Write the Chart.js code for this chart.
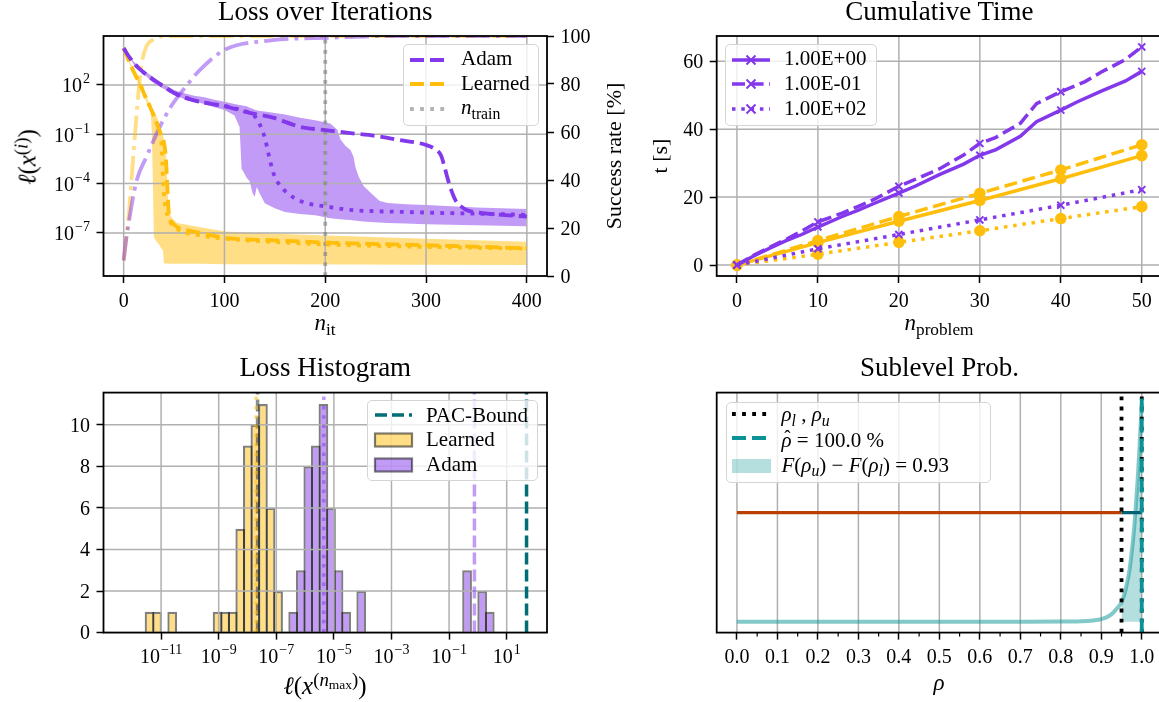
<!DOCTYPE html>
<html><head><meta charset="utf-8">
<script src="https://cdn.jsdelivr.net/npm/chart.js"></script>
<style>
html,body{margin:0;padding:0;background:#fff;width:1159px;height:702px;overflow:hidden;}
#wrap{position:relative;width:1159px;height:702px;overflow:hidden;font-family:'Liberation Serif','DejaVu Serif',serif;color:#000;background:#fff;}
canvas{position:absolute;left:0;top:0;}
.t{position:absolute;white-space:nowrap;line-height:1;}
.sup{font-size:75%;position:relative;top:-0.45em;}
.sub{font-size:75%;position:relative;top:0.3em;}
.sub2{font-size:72%;position:relative;top:0.25em;}
.hat{position:relative;display:inline-block;}
.hat::after{content:'\02C6';position:absolute;left:0.14em;top:-0.12em;font-style:normal;font-size:0.9em;}
.lg{position:absolute;border:1.6px solid #d4d4d4;border-radius:5px;background:rgba(255,255,255,0.8);box-sizing:border-box;}
</style></head><body><div id="wrap">
<canvas id="c1" width="1200" height="702"></canvas>
<canvas id="c2" width="1200" height="702"></canvas>
<canvas id="c3" width="1200" height="702"></canvas>
<canvas id="c4" width="1200" height="702"></canvas>
</div>
<script>
// ================= DATA =================
// --- Loss over Iterations (x: iteration, values: log10 of loss) ---
const adamMedX   = [0,5,10,20,30,40,50,60,76,100,125,149,175,200,225,250,274,300,310,315,318,321,325,330,335,340,356,375,400];
const adamMedLog = [4.23,3.75,3.34,2.75,2.3,1.9,1.51,1.25,0.97,0.72,0.30,0.0,-0.55,-0.74,-0.93,-1.1,-1.35,-1.65,-1.95,-2.3,-2.9,-3.6,-4.4,-5.1,-5.4,-5.6,-5.8,-5.9,-6.0];
const adamDotX   = [0,5,10,20,30,40,50,60,76,100,120,125,130,135,140,143,146,150,155,162,170,182,200,225,250,275,300,325,350,375,400];
const adamDotLog = [4.23,3.75,3.34,2.75,2.3,1.9,1.51,1.25,0.97,0.72,0.42,0.3,0.1,-0.4,-1.2,-2.0,-2.8,-3.6,-4.1,-4.55,-4.9,-5.2,-5.38,-5.6,-5.68,-5.72,-5.76,-5.8,-5.83,-5.86,-5.9];
const adamBandX     = [0,10,20,30,40,50,60,70,80,90,100,110,115,117,119,122,125,128,130,132,135,140,150,160,175,190,205,212,215,220,225,228,230,233,238,245,254,262,280,300,325,350,375,400];
const adamBandHiLog = [4.23,3.42,2.9,2.45,2.05,1.7,1.5,1.35,1.25,1.1,0.98,0.85,0.78,0.76,0.74,0.7,0.62,0.55,0.5,0.46,0.42,0.38,0.3,0.2,0.0,-0.15,-0.35,-0.72,-1.3,-1.7,-1.95,-2.35,-3.0,-3.55,-4.15,-4.55,-5.05,-5.18,-5.25,-5.3,-5.38,-5.45,-5.5,-5.55];
const adamBandLoLog = [4.23,3.25,2.65,2.1,1.75,1.4,1.15,1.0,0.85,0.65,0.48,0.15,-0.55,-3.1,-3.3,-3.65,-3.85,-4.6,-4.8,-4.2,-4.6,-5.2,-5.5,-5.72,-5.85,-5.92,-6.1,-6.15,-6.17,-6.2,-6.22,-6.24,-6.25,-6.27,-6.3,-6.33,-6.37,-6.4,-6.43,-6.47,-6.5,-6.53,-6.57,-6.6];
const lrnMedX   = [0,5,10,16.7,20,27,33,37,40,42,43,44,45,48,53,60,76,101,150,208,300,400];
const lrnMedLog = [4.23,3.5,2.8,2.0,1.5,0.55,-0.35,-1.0,-1.5,-2.5,-3.8,-5.0,-5.9,-6.35,-6.64,-6.8,-7.0,-7.3,-7.45,-7.6,-7.75,-7.93];
const lrnDotX   = [0,5,10,16.7,20,27,33,36,37.5,38.5,39.3,40.5,42,45,53,76,100,150,200,300,400];
const lrnDotLog = [4.23,3.5,2.8,2.0,1.5,0.55,-0.35,-0.9,-1.6,-2.8,-4.0,-5.0,-5.6,-6.2,-6.75,-7.15,-7.35,-7.55,-7.7,-7.85,-7.95];
const lrnBandX     = [0,5,10,16.7,20,25,27,28,29,30,31,33,35,37,38,39,40,41,42,43,44,45,48,53,76,101,150,225,300,400];
const lrnBandHiLog = [4.23,3.6,2.9,2.1,1.65,0.95,0.7,0.6,0.5,0.4,0.3,0.05,-0.25,-0.7,-0.9,-1.1,-1.3,-1.6,-2.1,-3.5,-4.8,-5.7,-6.1,-6.4,-6.65,-6.92,-7.05,-7.2,-7.35,-7.53];
const lrnBandLoLog = [4.23,3.4,2.7,1.9,1.35,0.6,0.3,-1.0,-4.0,-7.2,-7.4,-7.55,-7.7,-7.9,-8.0,-8.05,-8.85,-8.86,-8.86,-8.86,-8.86,-8.87,-8.87,-8.87,-8.88,-8.9,-8.9,-8.92,-8.94,-8.95];
const adamSucX = [0,3,5,8.3,13,23,34.6,46,59,76,101,142,208,260,400];
const adamSuc  = [6.5,17,22,30.4,40,50,61,70,77.5,86,94.4,98,99.3,100,100];
const lrnSucX  = [0,3,5,8.3,11.6,15,18,23,30,36,50,400];
const lrnSuc   = [6.5,17,25,43,61,78,89,96,98.6,99.7,100,100];
const nTrain = 200;
const iterTicks = [0,100,200,300,400];
const lossTickExps = [2,-1,-4,-7];
const succTicks = [0,20,40,60,80,100];

// --- Cumulative Time ---
const adamT0X = [0,2,4,6,8,10,13,15,17,20,22,25,28,30,32,35,37,40,42,45,48,50];      // 1.00E+00
const adamT0  = [0,2.6,4.9,7.1,9.0,11.2,14.3,16.2,18.2,21.2,23.2,26.6,29.7,32.3,34.0,37.9,42.2,45.6,48.0,51.2,54.2,57.0];
const adamT1X = [0,2,4,6,8,10,13,15,17,20,22,25,28,30,32,35,37,40,43,45,48,50];      // 1.00E-01
const adamT1  = [0,2.8,5.2,7.5,10,12.7,15.3,17.3,19.4,23.2,25.2,28.3,32.4,35.8,37.6,41.7,47.5,51.0,54.0,56.8,60.5,64.2];
const problemX = [0,10,20,30,40,50];
const adamT2  = [0,4.8,9.0,13.3,17.6,22.2];                                         // 1.00E+02
const lrnT0   = [0,6.6,12.9,19.0,25.4,32.2];
const lrnT1   = [0,7.2,14.3,21.1,28.0,35.4];
const lrnT2   = [0,3.2,6.7,10.1,13.7,17.2];
const timeTicks = [0,20,40,60];
const legendTime = ['1.00E+00','1.00E-01','1.00E+02'];

// --- Loss Histogram (log10 bins) ---
const binWidthLog = 0.2625;
const lrnBinLeft  = [-11.532,-11.270,-10.745,-9.170,-8.907,-8.645,-8.382,-8.120,-7.857,-7.595,-7.332,-7.070];
const lrnCounts   = [1,1,1,1,1,1,5,9,10,11,6,2];
const adamBinLeft = [-6.545,-6.282,-6.020,-5.757,-5.495,-5.232,-4.970,-4.707,-4.182,-0.507,0.018,0.281];
const adamCounts  = [1,3,8,9,11,6,3,1,2,3,2,1];
const lrnMedianLog = -7.70, lrnMeanLog = -7.65, adamMedianLog = -5.35, adamMeanLog = -0.12, pacBoundLog = 1.69;
const histXTicks = [-11,-9,-7,-5,-3,-1,1];
const histYTicks = [0,2,4,6,8,10];

// --- Sublevel Prob. ---
const rhoX       = [0,0.5,0.8,0.85,0.88,0.9,0.92,0.93,0.94,0.95,0.96,0.97,0.975,0.98,0.985,0.99,0.995,1.0];
const rhoDensity = [0,0,0.02,0.1,0.3,0.6,1.4,2.2,3.3,4.6,7.6,12.5,16.5,21,27,34,42.5,52];
const rhoL = 0.95, rhoU = 1.0, rhoHat = 1.0, levelY = 26;
const rhoTicks = [0,0.1,0.2,0.3,0.4,0.5,0.6,0.7,0.8,0.9,1.0];
const rhoMinor = [0.05,0.15,0.25,0.35,0.45,0.55,0.65,0.75,0.85,0.95];

// ================= STYLE / HELPERS =================
const FF = "'Liberation Serif','DejaVu Serif',serif";
const TF = 20, EF = 14;
const PUR = '#8338ec', GLD = '#ffbe0b';
const PURA = 'rgba(131,56,236,0.5)', GLDA = 'rgba(255,190,11,0.5)';
const GRID = '#b0b0b0';
Chart.defaults.font.family = FF;
const p10 = v => Math.pow(10, v);
const pts = (xs, ys, f) => xs.map((x, i) => ({x, y: f ? f(ys[i]) : ys[i]}));
const setTicks = arr => (s => { s.ticks = arr.map(v => ({value: v})); });
const fmtExp = k => (k < 0 ? '\u2212' + (-k) : String(k));

function axis(extra) {
  return Object.assign({
    grid: {display: true, drawOnChartArea: false, drawTicks: true, tickLength: 7, tickWidth: 1.5, tickColor: '#000'},
    border: {display: false},
    ticks: {display: false}
  }, extra);
}
const framePlugin = {id: 'frame', afterDraw(chart) {
  const a = chart.chartArea, ctx = chart.ctx;
  ctx.save(); ctx.strokeStyle = '#000'; ctx.lineWidth = 1.8;
  ctx.strokeRect(a.left, a.top, a.right - a.left, a.bottom - a.top); ctx.restore();
}};
function gridPlugin(v, h, afterIndex) {
  const paint = chart => {
    const a = chart.chartArea, ctx = chart.ctx;
    ctx.save(); ctx.beginPath(); ctx.rect(a.left, a.top, a.right - a.left, a.bottom - a.top); ctx.clip();
    ctx.strokeStyle = GRID; ctx.lineWidth = 1.5; ctx.beginPath();
    if (v) { const s = chart.scales[v]; s.ticks.forEach(t => { const p = s.getPixelForValue(t.value); ctx.moveTo(p, a.top); ctx.lineTo(p, a.bottom); }); }
    if (h) { const s = chart.scales[h]; s.ticks.forEach(t => { const p = s.getPixelForValue(t.value); ctx.moveTo(a.left, p); ctx.lineTo(a.right, p); }); }
    ctx.stroke(); ctx.restore();
  };
  return {id: 'myGrid',
    beforeDatasetsDraw(chart) { if (afterIndex == null) paint(chart); },
    afterDatasetDraw(chart, args) { if (afterIndex === args.index) paint(chart); }};
}
function tickText(items) {
  return {id: 'tickText', afterDraw(chart) {
    const ctx = chart.ctx, a = chart.chartArea;
    ctx.save(); ctx.fillStyle = '#000'; ctx.textBaseline = 'alphabetic';
    for (const it of items) {
      const s = chart.scales[it.scale];
      for (const t of s.ticks) {
        const lab = it.fmt(t.value), p = s.getPixelForValue(t.value);
        ctx.font = TF + 'px ' + FF; const wb = ctx.measureText(lab.b).width;
        let we = 0;
        if (lab.e) { ctx.font = EF + 'px ' + FF; we = ctx.measureText(lab.e).width + 1; }
        const w = wb + we; let x, y;
        if (it.side === 'bottom') { x = p - w / 2; y = a.bottom + 30.8; }
        else if (it.side === 'left') { x = a.left - 13.5 - w; y = p + (lab.e ? 7.5 : 6.8); }
        else { x = a.right + 13.5; y = p + 6.8; }
        ctx.font = TF + 'px ' + FF; ctx.fillText(lab.b, x, y);
        if (lab.e) { ctx.font = EF + 'px ' + FF; ctx.fillText(lab.e, x + wb + 1, y - 9); }
      }
    }
    ctx.restore();
  }};
}
function minorTicks(scaleId, vals) {
  return {id: 'minorTicks', afterDraw(chart) {
    const s = chart.scales[scaleId], a = chart.chartArea, ctx = chart.ctx;
    ctx.save(); ctx.strokeStyle = '#000'; ctx.lineWidth = 1.2; ctx.beginPath();
    vals.forEach(v => { const p = s.getPixelForValue(v); ctx.moveTo(p, a.bottom); ctx.lineTo(p, a.bottom + 4); });
    ctx.stroke(); ctx.restore();
  }};
}
const plain = v => ({b: String(v)});
const baseOpts = pad => ({responsive: false, animation: false, events: [],
  layout: {padding: pad},
  plugins: {legend: {display: false}, tooltip: {enabled: false}}});
const ln = (data, color, lw, dash, extra) => Object.assign({type: 'line', data, borderColor: color, borderWidth: lw,
  borderDash: dash || [], pointRadius: 0, fill: false, cubicInterpolationMode: 'monotone', order: 0}, extra || {});

const DASH = [14, 6], DOT = [3.8, 6.3], DASHDOT = [24.3, 6.1, 3.8, 6.1];

// ================= CHART 1: Loss over Iterations =================
const y1Min = p10(-9.62), y1Max = p10(4.98);
new Chart(document.getElementById('c1'), {
  type: 'line',
  data: {datasets: [
    {data: pts(adamBandX, adamBandLoLog, p10), borderWidth: 0, pointRadius: 0, fill: false, order: 20, yAxisID: 'y'},
    {data: pts(adamBandX, adamBandHiLog, p10), borderWidth: 0, pointRadius: 0, fill: '-1', backgroundColor: PURA, order: 20, yAxisID: 'y'},
    {data: pts(lrnBandX, lrnBandLoLog, p10), borderWidth: 0, pointRadius: 0, fill: false, order: 20, yAxisID: 'y'},
    {data: pts(lrnBandX, lrnBandHiLog, p10), borderWidth: 0, pointRadius: 0, fill: '-1', backgroundColor: GLDA, order: 20, yAxisID: 'y'},
    ln(pts(adamMedX, adamMedLog, p10), PUR, 3.8, DASH, {yAxisID: 'y'}),
    ln(pts(lrnMedX, lrnMedLog, p10), GLD, 3.8, DASH, {yAxisID: 'y'}),
    ln(pts(adamDotX, adamDotLog, p10), PUR, 3.8, DOT, {yAxisID: 'y'}),
    ln(pts(lrnDotX, lrnDotLog, p10), GLD, 3.8, DOT, {yAxisID: 'y'}),
    ln(pts(adamSucX, adamSuc), PURA, 3.8, DASHDOT, {yAxisID: 'y2'}),
    ln(pts(lrnSucX, lrnSuc), GLDA, 3.8, DASHDOT, {yAxisID: 'y2'}),
    ln([{x: nTrain, y: y1Min}, {x: nTrain, y: y1Max}], 'rgba(128,128,128,0.6)', 3.8, DOT, {yAxisID: 'y'})
  ]},
  options: Object.assign(baseOpts({left: 0, top: 36, right: 593, bottom: 386}), {
    scales: {
      x: axis({type: 'linear', min: -20, max: 420, afterBuildTicks: setTicks(iterTicks), afterFit: s => { s.height = 40; }}),
      y: axis({type: 'logarithmic', position: 'left', min: y1Min, max: y1Max, afterBuildTicks: setTicks(lossTickExps.map(p10)), afterFit: s => { s.width = 103.5; }}),
      y2: axis({type: 'linear', position: 'right', min: 0, max: 100, afterBuildTicks: setTicks(succTicks), afterFit: s => { s.width = 60; }})
    }
  }),
  plugins: [gridPlugin('x', 'y', 0), framePlugin, tickText([
    {scale: 'x', side: 'bottom', fmt: plain},
    {scale: 'y', side: 'left', fmt: v => ({b: '10', e: fmtExp(Math.round(Math.log10(v)))})},
    {scale: 'y2', side: 'right', fmt: plain}])]
});

// ================= CHART 2: Cumulative Time =================
const markEvery10 = r => (ctx => (ctx.raw && ctx.raw.x % 10 === 0 ? r : 0));
const tDash = [13, 5.6], tDot = [3.5, 5.8];
const pm = {pointStyle: 'crossRot', pointRadius: markEvery10(5), pointBorderWidth: 2, pointBorderColor: PUR, pointBackgroundColor: PUR, cubicInterpolationMode: 'default', tension: 0};
const gm = {pointStyle: 'circle', pointRadius: markEvery10(5.8), pointBorderWidth: 0, pointBackgroundColor: GLD, pointBorderColor: GLD, cubicInterpolationMode: 'default', tension: 0};
new Chart(document.getElementById('c2'), {
  type: 'line',
  data: {datasets: [
    ln(pts(adamT0X, adamT0), PUR, 3.5, [], pm),
    ln(pts(adamT1X, adamT1), PUR, 3.5, tDash, pm),
    ln(pts(problemX, adamT2), PUR, 3.5, tDot, pm),
    ln(pts(problemX, lrnT0), GLD, 3.5, [], gm),
    ln(pts(problemX, lrnT1), GLD, 3.5, tDash, gm),
    ln(pts(problemX, lrnT2), GLD, 3.5, tDot, gm)
  ]},
  options: Object.assign(baseOpts({left: 656.7, top: 36, right: 38, bottom: 386}), {
    scales: {
      x: axis({type: 'linear', min: -2.5, max: 52.5, afterBuildTicks: setTicks(problemX), afterFit: s => { s.height = 40; }}),
      y: axis({type: 'linear', position: 'left', min: -3.21, max: 67.41, afterBuildTicks: setTicks(timeTicks), afterFit: s => { s.width = 60; }})
    }
  }),
  plugins: [gridPlugin('x', 'y', null), framePlugin, tickText([
    {scale: 'x', side: 'bottom', fmt: plain}, {scale: 'y', side: 'left', fmt: plain}])]
});

// ================= CHART 3: Loss Histogram =================
const bars = (lefts, counts) => lefts.map((l, i) => ({x: l + binWidthLog / 2, y: counts[i]}));
const barStyle = {type: 'bar', borderColor: 'rgba(0,0,0,0.5)', borderWidth: 2.2, borderSkipped: 'start', grouped: false,
  categoryPercentage: 1, barPercentage: 1.29, inflateAmount: 0, order: 10};
const hMax = 11.55;
const vline = (x, color, dash) => ln([{x, y: 0}, {x, y: hMax}], color, 3.5, dash, {cubicInterpolationMode: 'default'});
new Chart(document.getElementById('c3'), {
  type: 'bar',
  data: {datasets: [
    Object.assign({data: bars(lrnBinLeft, lrnCounts), backgroundColor: GLDA}, barStyle),
    Object.assign({data: bars(adamBinLeft, adamCounts), backgroundColor: PURA}, barStyle),
    vline(lrnMedianLog, 'rgba(255,190,11,0.55)', [3.5, 5.8]),
    vline(lrnMeanLog, 'rgba(50,50,50,0.55)', [12, 5]),
    vline(adamMedianLog, 'rgba(131,56,236,0.5)', [3.5, 5.8]),
    vline(adamMeanLog, 'rgba(131,56,236,0.5)', [12, 5]),
    vline(pacBoundLog, '#006d77', [12, 5])
  ]},
  options: Object.assign(baseOpts({left: 0, top: 392.6, right: 653, bottom: 29.4}), {
    scales: {
      x: axis({type: 'linear', offset: false, min: -13, max: 2.4, afterBuildTicks: setTicks(histXTicks), afterFit: s => { s.height = 40; },
        grid: {display: true, offset: false, drawOnChartArea: false, drawTicks: true, tickLength: 7, tickWidth: 1.5, tickColor: '#000'}}),
      y: axis({type: 'linear', position: 'left', min: 0, max: hMax, afterBuildTicks: setTicks(histYTicks), afterFit: s => { s.width = 103.5; }})
    }
  }),
  plugins: [gridPlugin('x', 'y', 0), framePlugin, tickText([
    {scale: 'x', side: 'bottom', fmt: v => ({b: '10', e: fmtExp(v)})},
    {scale: 'y', side: 'left', fmt: plain}])]
});

// ================= CHART 4: Sublevel Prob. =================
const y4Min = -2.6, y4Max = 54.6;
const curvePts = pts(rhoX, rhoDensity);
new Chart(document.getElementById('c4'), {
  type: 'line',
  data: {datasets: [
    ln(rhoX.map((x, i) => ({x, y: rhoDensity[i]})).filter(p => p.x >= rhoL && p.x <= rhoU), 'rgba(0,0,0,0)', 0, [], {fill: 'origin', backgroundColor: 'rgba(10,147,150,0.3)', order: 10}),
    ln(curvePts, 'rgba(10,147,150,0.5)', 4, []),
    ln([{x: 0, y: levelY}, {x: rhoL, y: levelY}], '#bb3e03', 3.2, [], {cubicInterpolationMode: 'default'}),
    ln([{x: rhoL, y: levelY}, {x: rhoU, y: levelY}], '#005f73', 3.2, [], {cubicInterpolationMode: 'default'}),
    ln([{x: rhoL, y: y4Min}, {x: rhoL, y: y4Max}], '#000', 3.8, [3.8, 6.3], {cubicInterpolationMode: 'default'}),
    ln([{x: rhoU, y: y4Min}, {x: rhoU, y: y4Max}], '#000', 3.8, [3.8, 6.3], {cubicInterpolationMode: 'default'}),
    ln([{x: rhoHat, y: y4Min}, {x: rhoHat, y: y4Max}], '#0a9396', 3.8, [14, 6], {cubicInterpolationMode: 'default'})
  ].reverse()},
  options: Object.assign(baseOpts({left: 716.7, top: 392.6, right: 38, bottom: 29.4}), {
    scales: {
      x: axis({type: 'linear', min: -0.05, max: 1.05, afterBuildTicks: setTicks(rhoTicks), afterFit: s => { s.height = 40; }}),
      y: {type: 'linear', display: false, min: y4Min, max: y4Max}
    }
  }),
  plugins: [gridPlugin('x', null, null), framePlugin, minorTicks('x', rhoMinor), tickText([
    {scale: 'x', side: 'bottom', fmt: v => ({b: v.toFixed(1)})}])]
});

// ================= HTML TEXT: titles, labels, legends =================
const wrap = document.getElementById('wrap');
function text(html, x, base, fs, align) {
  const d = document.createElement('div'); d.className = 't';
  d.style.fontSize = fs + 'px'; d.style.left = x + 'px'; d.style.top = (base - 0.8375 * fs) + 'px';
  if (align === 'c') d.style.transform = 'translateX(-50%)';
  d.innerHTML = html; wrap.appendChild(d);
}
function rtext(html, cx, cy, fs) {
  const d = document.createElement('div'); d.className = 't';
  d.style.fontSize = fs + 'px'; d.style.left = cx + 'px'; d.style.top = cy + 'px';
  d.style.transform = 'translate(-50%,-50%) rotate(-90deg)';
  d.innerHTML = html; wrap.appendChild(d);
}
function svgLine(len, color, lw, dash, marker) {
  let s = `<svg width="${len}" height="20" style="overflow:visible;display:block">`;
  s += `<line x1="0" y1="10" x2="${len}" y2="10" stroke="${color}" stroke-width="${lw}" ${dash ? `stroke-dasharray="${dash}"` : ''}/>`;
  const c = len / 2;
  if (marker === 'x') { const r = 4.5; s += `<path d="M${c - r} ${10 - r}L${c + r} ${10 + r}M${c - r} ${10 + r}L${c + r} ${10 - r}" stroke="${color}" stroke-width="2"/>`; }
  return s + '</svg>';
}
function svgPatch(len, h, fill, stroke) {
  return `<svg width="${len}" height="20" style="overflow:visible;display:block"><rect x="0" y="${10 - h / 2}" width="${len}" height="${h}" fill="${fill}" ${stroke ? `stroke="${stroke}" stroke-width="2.2"` : ''}/></svg>`;
}
function legend(box, rows) {
  const b = document.createElement('div'); b.className = 'lg';
  Object.assign(b.style, {left: box.x + 'px', top: box.y + 'px', width: box.w + 'px', height: box.h + 'px'});
  wrap.appendChild(b);
  rows.forEach(r => {
    const s = document.createElement('div');
    s.style.cssText = `position:absolute;left:${r.sx}px;top:${r.sy - 10}px;`;
    s.innerHTML = r.svg; wrap.appendChild(s);
    text(r.html, r.tx, r.tb, 21, 'l');
  });
}

// titles
text('Loss over Iterations', 325.25, 20.7, 27, 'c');
text('Cumulative Time', 939.4, 20.7, 27, 'c');
text('Loss Histogram', 325.25, 376.8, 27, 'c');
text('Sublevel Prob.', 939.4, 376.8, 27, 'c');
// axis labels
text('<i>n</i><span class="sub">it</span>', 325, 330, 23, 'c');
rtext('<i>ℓ</i>(<i>x</i><span class="sup">(<i>i</i>)</span>)', 27, 157, 25);
rtext('Success rate [%]', 614, 156, 22);
text('<i>n</i><span class="sub">problem</span>', 939, 330, 23, 'c');
rtext('t [s]', 660, 156, 22);
text('<i>ℓ</i>(<i>x</i><span class="sup">(<i>n</i><span class="sub2">max</span>)</span>)', 325, 694, 25, 'c');
text('<i>ρ</i>', 939, 690, 23, 'c');

// legends
legend({x: 403, y: 44, w: 136, h: 82}, [
  {sx: 410, sy: 60, svg: svgLine(36, PUR, 3.8, '14 6'), tx: 461, tb: 65.7, html: 'Adam'},
  {sx: 410, sy: 84.3, svg: svgLine(36, GLD, 3.8, '14 6'), tx: 461, tb: 90.7, html: 'Learned'},
  {sx: 410, sy: 109, svg: svgLine(36, 'rgba(128,128,128,0.6)', 3.8, '3.8 6.3'), tx: 461, tb: 114.7, html: '<i>n</i><span class="sub">train</span>'}
]);
legend({x: 725, y: 44, w: 152, h: 82}, [
  {sx: 732, sy: 60, svg: svgLine(38, PUR, 3.5, '', 'x'), tx: 784, tb: 66, html: legendTime[0]},
  {sx: 732, sy: 84, svg: svgLine(38, PUR, 3.5, '13 5.6', 'x'), tx: 784, tb: 91, html: legendTime[1]},
  {sx: 732, sy: 109, svg: svgLine(38, PUR, 3.5, '3.5 5.8', 'x'), tx: 784, tb: 116, html: legendTime[2]}
]);
legend({x: 367, y: 400, w: 171, h: 81}, [
  {sx: 375, sy: 415, svg: svgLine(37, '#006d77', 3.5, '12 5'), tx: 426, tb: 422.7, html: 'PAC-Bound'},
  {sx: 375, sy: 439.5, svg: svgPatch(37, 13, GLDA, 'rgba(0,0,0,0.5)'), tx: 426, tb: 447, html: 'Learned'},
  {sx: 375, sy: 464.5, svg: svgPatch(37, 13, PURA, 'rgba(0,0,0,0.5)'), tx: 426, tb: 471.7, html: 'Adam'}
]);
legend({x: 725.5, y: 401.7, w: 265, h: 81.6}, [
  {sx: 732, sy: 413.7, svg: svgLine(39, '#000', 3.8, '3.8 6.3'), tx: 781.5, tb: 422, html: '<i>ρ</i><span class="sub"><i>l</i></span> , <i>ρ</i><span class="sub"><i>u</i></span>'},
  {sx: 732, sy: 438.3, svg: svgLine(39, '#0a9396', 3.8, '14 6'), tx: 781.5, tb: 447.7, html: '<span class="hat"><i>ρ</i></span> = 100.0 %'},
  {sx: 732, sy: 466, svg: svgPatch(39, 14, 'rgba(10,147,150,0.3)'), tx: 781.5, tb: 472.3, html: '<i>F</i>(<i>ρ</i><span class="sub"><i>u</i></span>) − <i>F</i>(<i>ρ</i><span class="sub"><i>l</i></span>) = 0.93'}
]);
</script></body></html>
